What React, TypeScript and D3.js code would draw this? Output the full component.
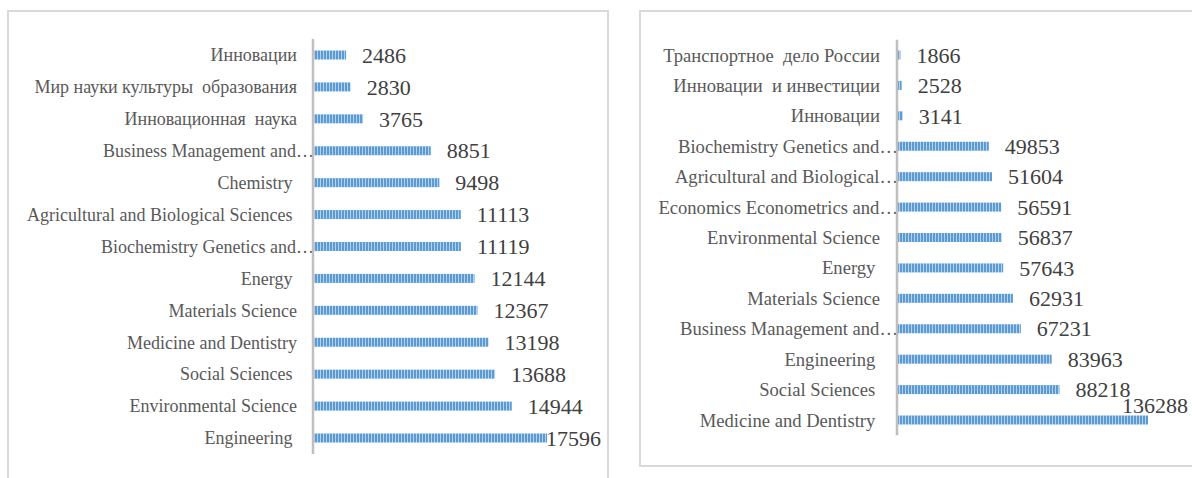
import React from "react";
import * as d3 from "d3";

// Left chart: journals / subject areas and publication counts
const leftCategories = [
  "Инновации",
  "Мир науки культуры  образования",
  "Инновационная  наука",
  "Business Management and…",
  "Chemistry ",
  "Agricultural and Biological Sciences ",
  "Biochemistry Genetics and…",
  "Energy ",
  "Materials Science",
  "Medicine and Dentistry",
  "Social Sciences ",
  "Environmental Science",
  "Engineering ",
];
const leftValues = [2486, 2830, 3765, 8851, 9498, 11113, 11119, 12144, 12367, 13198, 13688, 14944, 17596];

// Right chart
const rightCategories = [
  "Транспортное  дело России",
  "Инновации  и инвестиции",
  "Инновации",
  "Biochemistry Genetics and…",
  "Agricultural and Biological…",
  "Economics Econometrics and…",
  "Environmental Science",
  "Energy ",
  "Materials Science",
  "Business Management and…",
  "Engineering ",
  "Social Sciences ",
  "Medicine and Dentistry ",
];
const rightValues = [1866, 2528, 3141, 49853, 51604, 56591, 56837, 57643, 62931, 67231, 83963, 88218, 136288];

const W = 1192;
const H = 478;
const FONT = "'Liberation Serif', 'Times New Roman', serif";

type PanelProps = {
  categories: string[];
  values: number[];
  box: { x: number; y: number; w: number; h: number };
  axisX: number;
  xMax: number;
  xMaxPx: number;
  yFirst: number;
  yLast: number;
  labelRight: number;
  labelFont: number;
  overflow: "inside" | "above";
  valueRightLimit: number;
};

function Panel(p: PanelProps) {
  const x = d3.scaleLinear().domain([0, p.xMax]).range([p.axisX, p.xMaxPx]);
  const y = d3.scalePoint<string>().domain(p.categories.map((_, i) => String(i))).range([p.yFirst, p.yLast]);
  const step = y.step();
  const barH = 9;
  const valueFont = 22;
  const approxWidth = (v: number) => String(v).length * valueFont * 0.5;
  return (
    <g>
      <rect x={p.box.x} y={p.box.y} width={p.box.w} height={p.box.h} fill="#fff" stroke="#d9d9d9" strokeWidth={2} />
      {p.categories.map((c, i) => {
        // truncated names run their ellipsis up to the axis
        const truncated = c.endsWith("…");
        return (
          <text
            key={"c" + i}
            x={truncated ? p.axisX + 1 : p.labelRight}
            y={y(String(i))!}
            dy="0.35em"
            textAnchor="end"
            fontFamily={FONT}
            fontSize={p.labelFont}
            fill="#595959"
            style={{ whiteSpace: "pre" }}
          >
            {c}
          </text>
        );
      })}
      {p.values.map((v, i) => (
        <rect
          key={"b" + i}
          x={x(0)}
          y={y(String(i))! - barH / 2}
          width={x(v) - x(0)}
          height={barH}
          fill="url(#stripes)"
        />
      ))}
      <line x1={p.axisX} x2={p.axisX} y1={p.yFirst - step / 2} y2={p.yLast + step / 2} stroke="#bfbfbf" strokeWidth={2.5} />
      {p.values.map((v, i) => {
        const cy = y(String(i))!;
        let tx = x(v) + 16;
        let ty = cy;
        let anchor: "start" | "end" = "start";
        if (tx + approxWidth(v) > p.valueRightLimit) {
          anchor = "end";
          tx = p.valueRightLimit;
          if (p.overflow === "above") ty = cy - 15;
        }
        return (
          <text
            key={"v" + i}
            x={tx}
            y={ty}
            dy="0.35em"
            textAnchor={anchor}
            fontFamily={FONT}
            fontSize={valueFont}
            fill="#404040"
          >
            {v}
          </text>
        );
      })}
    </g>
  );
}

export default function App() {
  return (
    <svg width={W} height={H} style={{ position: "absolute", left: 0, top: 0, background: "#fff" }}>
      <defs>
        <pattern id="stripes" patternUnits="userSpaceOnUse" width={3} height={10}>
          <rect x={0} y={0} width={3} height={10} fill="#5b9bd5" />
          <rect x={2} y={0} width={1} height={10} fill="#b4d1ee" />
        </pattern>
      </defs>
      <Panel
        categories={leftCategories}
        values={leftValues}
        box={{ x: 8, y: 11, w: 600, h: 480 }}
        axisX={313}
        xMax={20000}
        xMaxPx={579}
        yFirst={55}
        yLast={438}
        labelRight={297}
        labelFont={18}
        overflow="inside"
        valueRightLimit={601}
      />
      <Panel
        categories={rightCategories}
        values={rightValues}
        box={{ x: 640, y: 11, w: 560, h: 455 }}
        axisX={897}
        xMax={160000}
        xMaxPx={1191.7}
        yFirst={55}
        yLast={420}
        labelRight={880}
        labelFont={18.6}
        overflow="above"
        valueRightLimit={1188}
      />
    </svg>
  );
}
